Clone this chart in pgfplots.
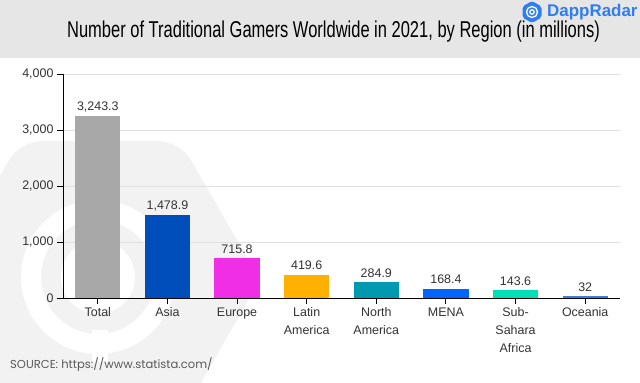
\documentclass[border=0pt]{standalone}
\usepackage{pgfplots}
\pgfplotsset{compat=1.18}
\usepackage{fontspec}
\setmainfont{Liberation Sans}
\newfontfamily\titlefont[FakeStretch=0.72]{Liberation Sans}
\newfontfamily\srcfont{Poppins}
\definecolor{hdr}{HTML}{E6E6E6}
\definecolor{wm}{HTML}{F2F2F2}
\definecolor{txt}{HTML}{333333}
\definecolor{cTotal}{HTML}{A8A8A8}
\definecolor{cAsia}{HTML}{004EBC}
\definecolor{cEurope}{HTML}{F02EE6}
\definecolor{cLatin}{HTML}{FFB000}
\definecolor{cNA}{HTML}{0099B0}
\definecolor{cMENA}{HTML}{0066FF}
\definecolor{cSSA}{HTML}{00E0B4}
\definecolor{cOce}{HTML}{3A80D8}
\definecolor{logo}{HTML}{2F7DF0}
\begin{document}
\begin{tikzpicture}[x=1bp,y=1bp]
\useasboundingbox (0,0) rectangle (640,382);
\fill[white] (0,0) rectangle (640,382);
\fill[hdr] (0,324) rectangle (640,382);
% watermark
\begin{scope}
\clip (0,0) rectangle (640,324);
\fill[wm, rounded corners=22] (20,241) -- (180,241) -- (260,102) -- (180,-37) -- (20,-37) -- (-60,102) -- cycle;
\draw[white, line width=17] (98,105) circle (28.5);
\draw[white, line width=20] (98,105) circle (67);
\fill[white] (92,20) rectangle (108,52);
\end{scope}
% title
\node[font=\titlefont\fontsize{23}{26}\selectfont, text=black] at (333.5,350) {Number of Traditional Gamers Worldwide in 2021, by Region (in millions)};
% logo
\fill[logo, rounded corners=2] (532,381) -- (541.5,375.5) -- (541.5,364.5) -- (532,359) -- (522.5,364.5) -- (522.5,375.5) -- cycle;
\draw[white, line width=1.3] (532,370) circle (2.2);
\draw[white, line width=1.3] (532,370) circle (5.5);
\node[font=\bfseries\fontsize{17}{19}\selectfont, text=logo, anchor=west, inner sep=1bp] at (546,370) {DappRadar};
% source
\node[font=\srcfont\fontsize{11.6}{13}\selectfont, text=black!65, anchor=west, inner sep=0] at (10,17) {SOURCE: https://www.statista.com/};
\begin{axis}[
  at={(63bp,84bp)}, anchor=south west,
  scale only axis, width=557bp, height=224bp,
  xmin=-0.5, xmax=7.5, ymin=0, ymax=4000,
  axis x line=bottom, axis y line=left,
  axis line style={-, black, line width=0.9pt},
  xtick={0,...,7},
  xticklabels={Total, Asia, Europe, {Latin\\America}, {North\\America}, MENA, {Sub-\\Sahara\\Africa}, Oceania},
  xticklabel style={align=center, font=\fontsize{12.5}{18}\selectfont, text=txt},
  ytick={0,1000,2000,3000,4000},
  yticklabel style={font=\fontsize{12.5}{14}\selectfont, text=txt},
  /pgf/number format/1000 sep={,},
  /pgf/number format/assume math mode=true,
  tick align=outside, major tick length=6bp,
  tick style={black, line width=0.9pt},
  ymajorgrids, grid style={black!12, line width=0.8pt},
  ybar, bar width=0.65, bar shift=0pt,
  nodes near coords={\pgfmathprintnumber[fixed,precision=1,1000 sep={,},assume math mode=true]{\pgfplotspointmeta}},
  every node near coord/.append style={font=\fontsize{12.5}{14}\selectfont, text=txt, yshift=1bp},
  clip=false,
]
\addplot[fill=cTotal, draw=none] coordinates {(0,3243.3)};
\addplot[fill=cAsia, draw=none] coordinates {(1,1478.9)};
\addplot[fill=cEurope, draw=none] coordinates {(2,715.8)};
\addplot[fill=cLatin, draw=none] coordinates {(3,419.6)};
\addplot[fill=cNA, draw=none] coordinates {(4,284.9)};
\addplot[fill=cMENA, draw=none] coordinates {(5,168.4)};
\addplot[fill=cSSA, draw=none] coordinates {(6,143.6)};
\addplot[fill=cOce, draw=none] coordinates {(7,32)};
\end{axis}
\end{tikzpicture}
\end{document}
